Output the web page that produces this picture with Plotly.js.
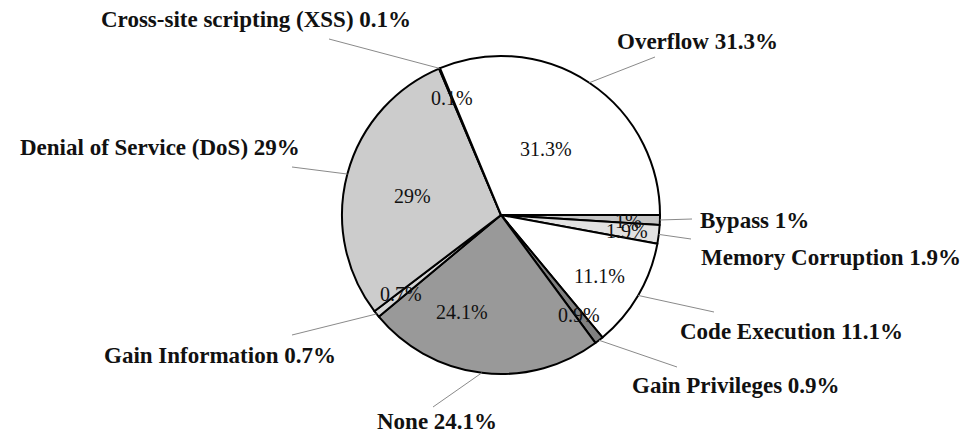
<!DOCTYPE html>
<html><head><meta charset="utf-8">
<script src="https://cdn.plot.ly/plotly-3.0.1.min.js"></script>
<style>html,body{margin:0;padding:0;background:#fff}</style>
</head><body><div id="chart" style="width:974px;height:435px"></div>
<script>
// ---- data ----
const categories = ["Bypass", "Memory Corruption", "Code Execution", "Gain Privileges", "None",
  "Gain Information", "Denial of Service (DoS)", "Cross-site scripting (XSS)", "Overflow"];
const shares = [1, 1.9, 11.1, 0.9, 24.1, 0.7, 29, 0.1, 31.3];

// ---- styles / label layout (not data) ----
const sliceColors = ["#c4c4c4", "#e2e2e2", "#ffffff", "#808080", "#999999", "#d6d6d6", "#cccccc", "#e0e0e0", "#ffffff"];
const insideR = [0.80, 0.80, 0.73, 0.80, 0.66, 0.80, 0.57, 0.80, 0.50];
const insideDAng = [1, 0, 1.5, 0, 15, 0, -3, 0, 0.7];
// text centre and leader-line end (pixels)
const outsideText = [[754, 220], [831, 257], [791, 331], [736, 385], [437, 421], [220, 355], [160, 148], [256, 19], [697, 42]];
const leaderEnd = [[692, 219], [691, 239], [714, 312], [677, 367], [433, 407], [292, 335], [292, 167], [329, 39], [655, 57]];

const W = 974, H = 435;
const CX = 501, CY = 215, R = 159;
const px = x => x / W, py = y => 1 - y / H;

const total = shares.reduce((a, b) => a + b, 0);
const annotations = [], shapes = [];
let cum = 0;
shares.forEach((v, i) => {
  const mid = 90 + (cum + v / 2) / total * 360;
  cum += v;
  const rad = mid * Math.PI / 180;
  const ex = CX + R * Math.sin(rad), ey = CY - R * Math.cos(rad);
  shapes.push({type: "line", xref: "paper", yref: "paper",
    x0: px(ex), y0: py(ey), x1: px(leaderEnd[i][0]), y1: py(leaderEnd[i][1]),
    line: {color: "#8a8a8a", width: 1}});
  const ra = (mid + insideDAng[i]) * Math.PI / 180;
  const ix = CX + insideR[i] * R * Math.sin(ra), iy = CY - insideR[i] * R * Math.cos(ra);
  annotations.push({xref: "paper", yref: "paper", x: px(ix), y: py(iy), showarrow: false,
    xanchor: "center", yanchor: "middle", text: v + "%",
    font: {family: "Liberation Serif, serif", size: 20, color: "#111"}});
  annotations.push({xref: "paper", yref: "paper", x: px(outsideText[i][0]), y: py(outsideText[i][1]), showarrow: false,
    xanchor: "center", yanchor: "middle", text: "<b>" + categories[i] + " " + v + "%</b>",
    font: {family: "Liberation Serif, serif", size: 23, color: "#111"}});
});

const trace = {
  type: "pie", labels: categories, values: shares, sort: false, direction: "clockwise", rotation: 90,
  textinfo: "none", hoverinfo: "skip", showlegend: false,
  marker: {colors: sliceColors, line: {color: "#000", width: 2}},
  domain: {x: [(CX - 445) / W, (CX + 445) / W], y: [(H - CY - R) / H, (H - CY + R) / H]}
};

Plotly.newPlot("chart", [trace], {
  width: W, height: H, margin: {l: 0, r: 0, t: 0, b: 0},
  paper_bgcolor: "#fff", plot_bgcolor: "#fff", showlegend: false,
  shapes: shapes, annotations: annotations
}, {staticPlot: true});
</script></body></html>
